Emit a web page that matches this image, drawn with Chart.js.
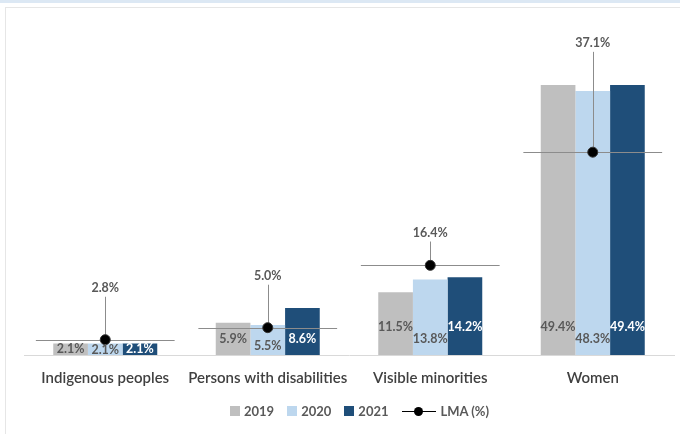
<!DOCTYPE html>
<html><head><meta charset="utf-8">
<script src="https://cdn.jsdelivr.net/npm/chart.js@4"></script>
<style>
html,body{margin:0;padding:0;background:#fff;}
#wrap{position:relative;width:680px;height:434px;overflow:hidden;background:#fff;}
#topband{position:absolute;left:0;top:0;width:680px;height:3px;background:#dce8f4;}
#frame{position:absolute;left:5px;top:7px;width:720px;height:460px;border:1px solid #e6e6e6;box-sizing:border-box;}
#c{position:absolute;left:0;top:0;}
#legend{position:absolute;top:402px;left:230px;height:18px;display:flex;align-items:center;font-family:Lato,"Open Sans",sans-serif;font-weight:bold;font-size:13px;color:#595959;white-space:nowrap;}
#legend .it{display:flex;align-items:center;margin-right:13px;}
#legend .sw{width:10px;height:10px;margin-right:4px;}
#legend .ln{position:relative;width:34px;height:10px;margin-right:5px;}
#legend .ln:before{content:"";position:absolute;left:0;right:0;top:5px;height:1px;background:#000;}
#legend .ln:after{content:"";position:absolute;left:12px;top:1px;width:9px;height:9px;border-radius:50%;background:#000;}
</style></head>
<body>
<div id="wrap">
<div id="topband"></div>
<div id="frame"></div>
<canvas id="c" width="680" height="434"></canvas>
<div id="legend"></div>
</div>
<script>
const categories = ['Indigenous peoples', 'Persons with disabilities', 'Visible minorities', 'Women'];
const years = ['2019', '2020', '2021'];
const values2019 = [2.1, 5.9, 11.5, 49.4];
const values2020 = [2.1, 5.5, 13.8, 48.3];
const values2021 = [2.1, 8.6, 14.2, 49.4];
const lmaValues = [2.8, 5.0, 16.4, 37.1];
const lmaLabel = 'LMA (%)';

const barColors = ['#BFBFBF', '#BDD7EE', '#1F4E79'];
const barLabelColors = ['#595959', '#595959', '#FFFFFF'];
const FONT = 'Lato, "Open Sans", sans-serif';

const lmaPlugin = {
  id: 'lmaDecor',
  beforeDatasetDraw(chart, args, opts) {
    if (args.index !== 3) return;
    const ctx = chart.ctx;
    const meta = chart.getDatasetMeta(3);
    const xs = chart.scales.x, ys = chart.scales.y;
    const catW = (xs.right - xs.left) / categories.length;
    ctx.save();
    ctx.strokeStyle = '#8c8c8c';
    ctx.lineWidth = 1;
    meta.data.forEach((pt, i) => {
      const half = catW * 0.427;
      ctx.beginPath();
      ctx.moveTo(pt.x - half, Math.round(pt.y) + 0.5);
      ctx.lineTo(pt.x + half, Math.round(pt.y) + 0.5);
      ctx.stroke();
      const ly = ys.getPixelForValue(opts.labelAt[i]);
      ctx.beginPath();
      ctx.moveTo(Math.round(pt.x) + 0.5, ly + 9);
      ctx.lineTo(Math.round(pt.x) + 0.5, pt.y);
      ctx.stroke();
      ctx.fillStyle = '#595959';
      ctx.font = 'bold 12.5px ' + FONT;
      ctx.textAlign = 'center';
      ctx.textBaseline = 'middle';
      ctx.fillText(lmaValues[i].toFixed(1) + '%', pt.x, ly);
    });
    ctx.restore();
  }
};

const barLabelPlugin = {
  id: 'barLabels',
  afterDatasetsDraw(chart) {
    const ctx = chart.ctx;
    ctx.save();
    ctx.font = 'bold 12.5px ' + FONT;
    ctx.textAlign = 'center';
    ctx.textBaseline = 'middle';
    const m0 = chart.getDatasetMeta(0);
    for (let d = 0; d < 3; d++) {
      const meta = chart.getDatasetMeta(d);
      meta.data.forEach((bar, i) => {
        const h = bar.base - bar.y;
        const h0 = m0.data[i].base - m0.data[i].y;
        let off;
        if (d === 1) off = Math.min(16, Math.max(h * 0.3, 5));
        else off = Math.min(28, h0 / 2);
        const vals = [values2019, values2020, values2021][d];
        ctx.fillStyle = barLabelColors[d];
        ctx.fillText(vals[i].toFixed(1) + '%', bar.x, bar.base - off);
      });
    }
    ctx.restore();
  }
};

const chart = new Chart(document.getElementById('c'), {
  type: 'bar',
  data: {
    labels: categories,
    datasets: [
      { label: years[0], data: values2019, backgroundColor: barColors[0], order: 1 },
      { label: years[1], data: values2020, backgroundColor: barColors[1], order: 1 },
      { label: years[2], data: values2021, backgroundColor: barColors[2], order: 1 },
      { type: 'line', label: lmaLabel, data: lmaValues, showLine: false, order: 0,
        pointRadius: 5, pointHoverRadius: 5, pointBackgroundColor: '#000', pointBorderColor: '#333', pointBorderWidth: 1 }
    ]
  },
  options: {
    responsive: false,
    animation: false,
    devicePixelRatio: 1,
    layout: { padding: { left: 24, right: 5, top: 27, bottom: 33 } },
    datasets: { bar: { categoryPercentage: 0.64, barPercentage: 1.0, borderWidth: 0 } },
    scales: {
      x: {
        grid: { display: false, drawTicks: false },
        border: { display: true, color: '#d9d9d9', width: 1 },
        ticks: { color: '#404040', font: { family: FONT, size: 15, weight: '600' }, padding: 14, maxRotation: 0, autoSkip: false }
      },
      y: { display: false, min: 0, max: 60 }
    },
    plugins: {
      legend: { display: false },
      tooltip: { enabled: false },
      lmaDecor: { labelAt: [12.3, 14.5, 22.4, 57.1] }
    }
  },
  plugins: [lmaPlugin, barLabelPlugin]
});

// HTML legend from chart datasets
const lg = document.getElementById('legend');
chart.data.datasets.forEach((ds, i) => {
  const it = document.createElement('div');
  it.className = 'it';
  const sw = document.createElement('span');
  if (ds.type === 'line') { sw.className = 'ln'; }
  else { sw.className = 'sw'; sw.style.background = ds.backgroundColor; }
  it.appendChild(sw);
  const t = document.createElement('span');
  t.textContent = ds.label;
  it.appendChild(t);
  lg.appendChild(it);
});
</script>
</body></html>
